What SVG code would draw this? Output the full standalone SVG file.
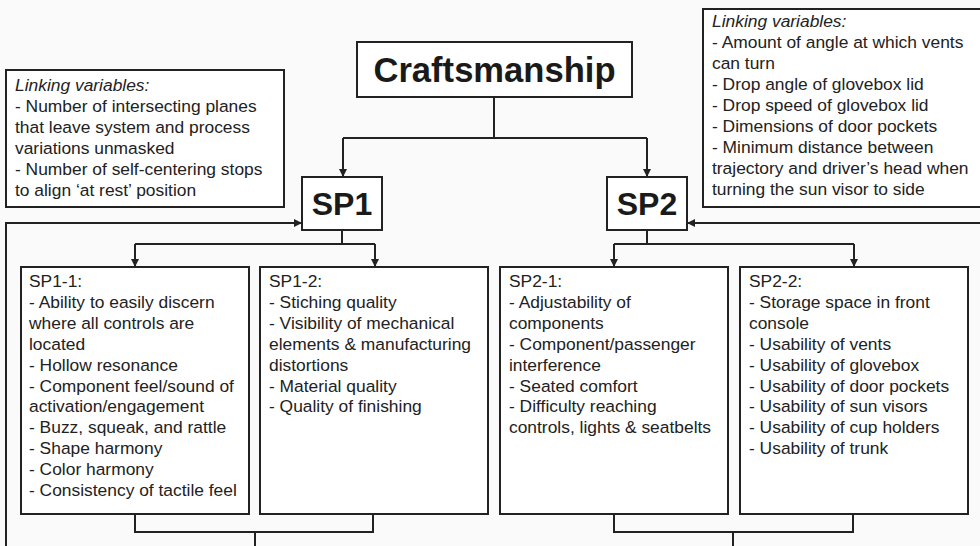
<svg xmlns="http://www.w3.org/2000/svg" width="980" height="546" viewBox="0 0 980 546">
<defs>
<marker id="ah" viewBox="0 0 10 10" refX="10" refY="5" markerWidth="9" markerHeight="8" markerUnits="userSpaceOnUse" orient="auto">
<path d="M0,0 L10,5 L0,10 Z" fill="#222"/>
</marker>
</defs>
<style>
.box{fill:#fff;stroke:#222;stroke-width:2}
.t{font-family:"Liberation Sans",Arial,sans-serif;font-size:17.4px;fill:#222}
.it{font-style:italic}
.big{font-family:"Liberation Sans",Arial,sans-serif;font-weight:bold;fill:#1a1a1a;text-anchor:middle}
.c{fill:none;stroke:#222;stroke-width:2}
</style>
<rect width="980" height="546" fill="#fafafa"/>
<g id="connectors">
<path class="c" d="M494,97 V138 M343,138 H647"/>
<path class="c" d="M343,138 V177" marker-end="url(#ah)"/>
<path class="c" d="M647,138 V177" marker-end="url(#ah)"/>
<path class="c" d="M6,546 V223 H302" marker-end="url(#ah)"/>
<path class="c" d="M980,223 H687" marker-end="url(#ah)"/>
<path class="c" d="M342,230 V244 M135,244 H375"/>
<path class="c" d="M135,244 V267" marker-end="url(#ah)"/>
<path class="c" d="M375,244 V267" marker-end="url(#ah)"/>
<path class="c" d="M647,230 V244 M614,244 H854"/>
<path class="c" d="M614,244 V267" marker-end="url(#ah)"/>
<path class="c" d="M854,244 V267" marker-end="url(#ah)"/>
<path class="c" d="M135,514 V532 H373 V514 M255,532 V546"/>
<path class="c" d="M614,514 V532 H853 V514 M733,532 V546"/>
</g>
<g id="craftsmanship">
<rect class="box" x="357" y="42" width="275" height="55"/>
<text class="big" x="494.5" y="82" font-size="34.6">Craftsmanship</text>
</g>
<g id="sp1">
<rect class="box" x="302" y="177" width="80" height="53"/>
<text class="big" x="342" y="215" font-size="32">SP1</text>
</g>
<g id="sp2">
<rect class="box" x="607" y="177" width="80" height="53"/>
<text class="big" x="647" y="215" font-size="32">SP2</text>
</g>
<g id="link1">
<rect class="box" x="6" y="70" width="278" height="137"/>
<text class="t" x="15" y="91"><tspan class="it">Linking variables:</tspan><tspan x="15" dy="21">- Number of intersecting planes</tspan><tspan x="15" dy="21">that leave system and process</tspan><tspan x="15" dy="21">variations unmasked</tspan><tspan x="15" dy="21">- Number of self-centering stops</tspan><tspan x="15" dy="21">to align ‘at rest’ position</tspan></text>
</g>
<g id="link2">
<rect class="box" x="703" y="9" width="285" height="198"/>
<text class="t" x="712" y="27"><tspan class="it">Linking variables:</tspan><tspan x="712" dy="21">- Amount of angle at which vents</tspan><tspan x="712" dy="21">can turn</tspan><tspan x="712" dy="21">- Drop angle of glovebox lid</tspan><tspan x="712" dy="21">- Drop speed of glovebox lid</tspan><tspan x="712" dy="21">- Dimensions of door pockets</tspan><tspan x="712" dy="21">- Minimum distance between</tspan><tspan x="712" dy="21">trajectory and driver’s head when</tspan><tspan x="712" dy="21">turning the sun visor to side</tspan></text>
</g>
<g id="sp1-1">
<rect class="box" x="21" y="267" width="228" height="247"/>
<text class="t" x="29" y="287"><tspan>SP1-1:</tspan><tspan x="29" dy="20.9">- Ability to easily discern</tspan><tspan x="29" dy="20.9">where all controls are</tspan><tspan x="29" dy="20.9">located</tspan><tspan x="29" dy="20.9">- Hollow resonance</tspan><tspan x="29" dy="20.9">- Component feel/sound of</tspan><tspan x="29" dy="20.9">activation/engagement</tspan><tspan x="29" dy="20.9">- Buzz, squeak, and rattle</tspan><tspan x="29" dy="20.9">- Shape harmony</tspan><tspan x="29" dy="20.9">- Color harmony</tspan><tspan x="29" dy="20.9">- Consistency of tactile feel</tspan></text>
</g>
<g id="sp1-2">
<rect class="box" x="260" y="267" width="228" height="247"/>
<text class="t" x="269" y="287"><tspan>SP1-2:</tspan><tspan x="269" dy="20.9">- Stiching quality</tspan><tspan x="269" dy="20.9">- Visibility of mechanical</tspan><tspan x="269" dy="20.9">elements &amp; manufacturing</tspan><tspan x="269" dy="20.9">distortions</tspan><tspan x="269" dy="20.9">- Material quality</tspan><tspan x="269" dy="20.9">- Quality of finishing</tspan></text>
</g>
<g id="sp2-1">
<rect class="box" x="500" y="267" width="228" height="247"/>
<text class="t" x="509" y="287"><tspan>SP2-1:</tspan><tspan x="509" dy="20.9">- Adjustability of</tspan><tspan x="509" dy="20.9">components</tspan><tspan x="509" dy="20.9">- Component/passenger</tspan><tspan x="509" dy="20.9">interference</tspan><tspan x="509" dy="20.9">- Seated comfort</tspan><tspan x="509" dy="20.9">- Difficulty reaching</tspan><tspan x="509" dy="20.9">controls, lights &amp; seatbelts</tspan></text>
</g>
<g id="sp2-2">
<rect class="box" x="740" y="267" width="228" height="247"/>
<text class="t" x="749" y="287"><tspan>SP2-2:</tspan><tspan x="749" dy="20.9">- Storage space in front</tspan><tspan x="749" dy="20.9">console</tspan><tspan x="749" dy="20.9">- Usability of vents</tspan><tspan x="749" dy="20.9">- Usability of glovebox</tspan><tspan x="749" dy="20.9">- Usability of door pockets</tspan><tspan x="749" dy="20.9">- Usability of sun visors</tspan><tspan x="749" dy="20.9">- Usability of cup holders</tspan><tspan x="749" dy="20.9">- Usability of trunk</tspan></text>
</g>
</svg>
